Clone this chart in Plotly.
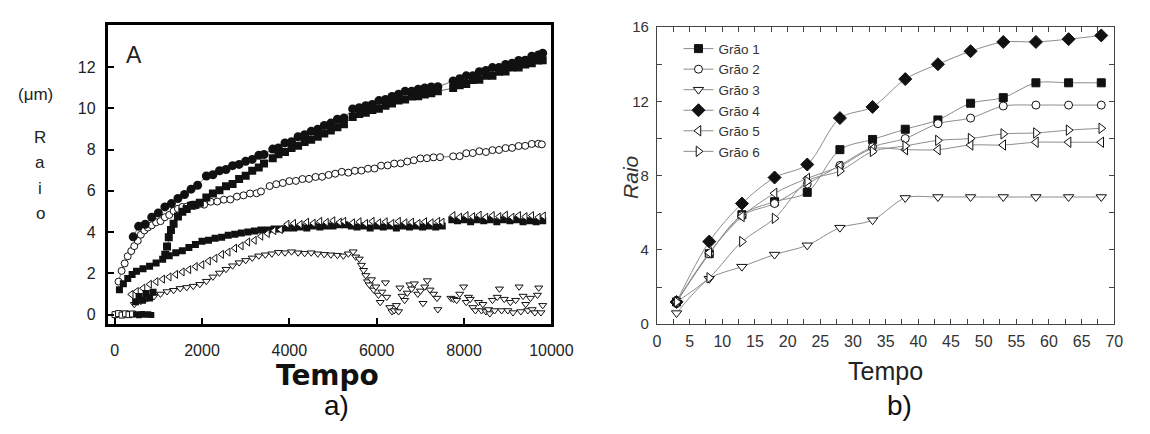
import plotly.graph_objects as go

# The page body has an 8 px margin, so the figure is drawn 8 px smaller
# and all layout positions are given in window pixels minus that offset.
OFF = 8
W, H = 1150 - OFF, 434 - OFF

# ---------------- Panel a) data (Tempo vs Raio, µm) ----------------
a_s1_x = [425, 550, 700, 850, 1000, 1150, 1300, 1450, 1600, 1750, 1900, 2100, 2250, 2400, 2550,
          2700, 2850, 3000, 3150, 3300, 3420, 3620, 3750, 3900, 4050, 4200, 4350, 4500, 4650, 4800,
          4950, 5100, 5250, 5450, 5600, 5750, 5900, 6050, 6200, 6350, 6500, 6650, 6800, 6950, 7100,
          7250, 7400, 7750, 7900, 8050, 8200, 8350, 8500, 8650, 8800, 8950, 9100, 9250, 9400, 9550,
          9700, 9800]
a_s1_y = [3.77, 4.28, 4.38, 4.72, 4.93, 5.22, 5.38, 5.63, 5.82, 6.08, 6.27, 6.72, 6.78, 6.97, 7.03,
          7.22, 7.28, 7.43, 7.52, 7.72, 7.76, 8.02, 8.08, 8.32, 8.38, 8.62, 8.72, 8.88, 8.98, 9.17,
          9.28, 9.47, 9.53, 9.97, 10.03, 10.12, 10.18, 10.37, 10.43, 10.57, 10.68, 10.82, 10.83, 10.92, 10.98,
          11.03, 11.04, 11.32, 11.43, 11.57, 11.58, 11.77, 11.83, 11.97, 11.98, 12.12, 12.18, 12.32, 12.33, 12.52,
          12.58, 12.67]

a_s2_x = [1160, 1200, 1240, 1290, 1350, 1450, 1550, 1650, 1750, 1850, 1950, 2100, 2250, 2400, 2550,
          2700, 2850, 3000, 3150, 3300, 3420, 3620, 3750, 3900, 4050, 4200, 4350, 4500, 4650, 4800,
          4950, 5100, 5250, 5450, 5600, 5750, 5900, 6050, 6200, 6350, 6500, 6650, 6800, 6950, 7100,
          7250, 7400, 7750, 7900, 8050, 8200, 8350, 8500, 8650, 8800, 8950, 9100, 9250, 9400, 9550,
          9700, 9800]
a_s2_y = [2.9, 3.3, 3.75, 4.1, 4.4, 4.75, 4.98, 5.12, 5.27, 5.33, 5.42, 5.68, 5.87, 6.03, 6.22,
          6.33, 6.57, 6.73, 6.97, 7.13, 7.32, 7.58, 7.77, 7.88, 8.07, 8.18, 8.37, 8.48, 8.62, 8.78,
          8.92, 9.08, 9.22, 9.58, 9.72, 9.78, 9.92, 9.98, 10.12, 10.23, 10.37, 10.43, 10.57, 10.58, 10.67,
          10.73, 10.82, 10.98, 11.12, 11.18, 11.37, 11.38, 11.57, 11.58, 11.77, 11.78, 11.97, 11.98, 12.12, 12.18,
          12.32, 12.33]

a_s2e_x = [480, 560, 640, 720, 800, 880]
a_s2e_y = [0.62, 0.88, 0.70, 1.02, 0.80, 1.08]

a_s3_x = [90, 160, 230, 300, 380, 450, 530, 600, 680, 760, 850, 950, 1050, 1150, 1250,
          1350, 1450, 1550, 1650, 1750, 1850, 1950, 2050, 2200, 2350, 2500, 2650, 2800, 2950, 3100,
          3250, 3350, 3550, 3700, 3850, 4000, 4150, 4300, 4450, 4600, 4750, 4900, 5050, 5200, 5350,
          5500, 5650, 5800, 5950, 6100, 6250, 6400, 6550, 6700, 6850, 7000, 7150, 7300, 7450, 7750,
          7900, 8050, 8200, 8350, 8500, 8650, 8800, 8950, 9100, 9250, 9400, 9550, 9700, 9780]
a_s3_y = [1.6, 2.12, 2.48, 2.83, 3.08, 3.32, 3.58, 3.87, 4.08, 4.22, 4.33, 4.47, 4.53, 4.72, 4.83,
          5.02, 5.13, 5.22, 5.23, 5.32, 5.28, 5.37, 5.33, 5.47, 5.48, 5.57, 5.58, 5.72, 5.78, 5.87,
          5.88, 5.97, 6.23, 6.32, 6.38, 6.47, 6.48, 6.57, 6.58, 6.67, 6.68, 6.77, 6.83, 6.92, 6.88,
          6.97, 6.98, 7.07, 7.08, 7.22, 7.23, 7.32, 7.33, 7.42, 7.48, 7.57, 7.58, 7.62, 7.63, 7.67,
          7.68, 7.82, 7.83, 7.92, 7.88, 7.97, 7.98, 8.07, 8.08, 8.17, 8.18, 8.27, 8.28, 8.25]

a_s4_x = [110, 200, 300, 400, 500, 650, 800, 950, 1100, 1250, 1400, 1550, 1700, 1850, 2000,
          2150, 2300, 2450, 2600, 2750, 2900, 3050, 3200, 3350, 3500, 3650, 3800, 3950, 4100, 4250,
          4400, 4550, 4700, 4850, 5000, 5150, 5270, 5420, 5550, 5700, 5850, 6000, 6150, 6300, 6450,
          6600, 6750, 6900, 7050, 7200, 7350, 7500, 7720, 7850, 8000, 8150, 8300, 8450, 8600, 8750,
          8900, 9050, 9200, 9350, 9500, 9650, 9800]
a_s4_y = [1.2, 1.5, 1.75, 1.95, 2.1, 2.22, 2.35, 2.5, 2.68, 2.85, 3.0, 3.1, 3.25, 3.4, 3.55,
          3.6, 3.7, 3.75, 3.85, 3.9, 3.95, 4.0, 4.05, 4.1, 4.1, 4.15, 4.15, 4.2, 4.2, 4.25,
          4.2, 4.3, 4.25, 4.3, 4.3, 4.35, 4.35, 4.3, 4.25, 4.3, 4.2, 4.3, 4.25, 4.3, 4.2,
          4.3, 4.25, 4.3, 4.25, 4.3, 4.25, 4.3, 4.6, 4.55, 4.6, 4.5, 4.6, 4.55, 4.6, 4.5,
          4.6, 4.55, 4.6, 4.5, 4.55, 4.5, 4.55]

a_s5_x = [380, 500, 650, 800, 950, 1100, 1250, 1400, 1550, 1700, 1850, 2000, 2150, 2300, 2450,
          2600, 2750, 2900, 3050, 3200, 3350, 3500, 3650, 3800, 3950, 4100, 4250, 4400, 4550, 4700,
          4850, 5000, 5150, 5250, 5450, 5600, 5750, 5900, 6050, 6200, 6350, 6500, 6650, 6800, 6950,
          7100, 7250, 7400, 7500, 7750, 7900, 8050, 8200, 8350, 8500, 8650, 8800, 8950, 9100, 9250,
          9400, 9550, 9700, 9820]
a_s5_y = [0.98, 1.12, 1.28, 1.47, 1.6, 1.72, 1.83, 1.95, 2.07, 2.18, 2.33, 2.42, 2.6, 2.73, 2.92,
          3.03, 3.22, 3.33, 3.52, 3.6, 3.8, 3.93, 4.07, 4.12, 4.38, 4.42, 4.37, 4.48, 4.43, 4.52,
          4.47, 4.55, 4.48, 4.52, 4.45, 4.5, 4.42, 4.52, 4.45, 4.5, 4.42, 4.52, 4.45, 4.48, 4.42,
          4.5, 4.45, 4.52, 4.48, 4.8, 4.72, 4.8, 4.75, 4.82, 4.72, 4.8, 4.75, 4.82, 4.72, 4.8,
          4.75, 4.8, 4.72, 4.78]

a_s6_x = [450, 600, 750, 900, 1050, 1200, 1350, 1500, 1650, 1800, 1950, 2100, 2250, 2400, 2550,
          2700, 2850, 3000, 3150, 3300, 3450, 3600, 3750, 3900, 4050, 4200, 4350, 4500, 4650, 4800,
          4950, 5100, 5235]
a_s6_y = [0.5, 0.65, 0.78, 0.88, 1.0, 1.12, 1.18, 1.27, 1.32, 1.38, 1.47, 1.62, 1.83, 2.02, 2.2,
          2.37, 2.52, 2.63, 2.75, 2.85, 2.9, 2.95, 3.02, 3.0, 3.05, 3.0, 2.97, 3.0, 2.95, 2.92,
          2.9, 2.88, 2.85]

a_s6b_x = [5350, 5460, 5520, 5600, 5650, 5700, 5750, 5790, 5830, 5880, 5930, 5980, 6040, 6080, 6120,
           6200, 6230, 6300, 6350, 6400, 6450, 6500, 6530, 6580, 6640, 6700, 6760, 6800, 6860, 6940,
           7000, 7060, 7100, 7160, 7220, 7300, 7380, 7400, 7700, 7760, 7830, 7900, 7990, 8050, 8100,
           8140, 8200, 8260, 8330, 8400, 8430, 8500, 8560, 8590, 8650, 8700, 8760, 8810, 8860, 8920,
           9000, 9060, 9120, 9180, 9260, 9300, 9350, 9410, 9460, 9520, 9560, 9620, 9680, 9710, 9760, 9800]
a_s6b_y = [2.95, 3.05, 2.8, 2.7, 2.4, 2.15, 1.9, 1.6, 1.45, 1.7, 1.2, 1.35, 0.95, 0.6, 1.1,
           1.55, 0.85, 0.35, 0.15, 0.2, 0.45, 0.15, 1.3, 0.9, 0.7, 1.05, 1.45, 1.25, 1.5, 1.0,
           1.15, 0.55, 1.35, 1.65, 1.2, 1.0, 0.8, 0.25, 0.8, 0.75, 0.7, 1.0, 1.35, 0.6, 0.85,
           0.75, 0.35, 0.2, 0.6, 0.2, 0.5, 0.15, 0.25, 0.05, 0.7, 0.2, 0.85, 1.25, 0.2, 0.75,
           0.2, 0.6, 0.1, 0.7, 1.35, 0.15, 0.9, 0.5, 0.2, 0.8, 0.25, 0.1, 0.95, 1.3, 0.1, 0.45]

a_s7o_x = [10, 90, 170, 250, 330, 410]
a_s7o_y = [0.0, 0.05, -0.02, 0.04, 0.0, 0.03]
a_s7f_x = [490, 560, 630, 700, 770, 840]
a_s7f_y = [0.02, -0.03, 0.03, 0.0, 0.02, -0.02]

a_xticks = [0, 2000, 4000, 6000, 8000, 10000]
a_yticks = [0, 2, 4, 6, 8, 10, 12]

# ---------------- Panel b) data ----------------
b_tempo = [3, 8, 13, 18, 23, 28, 33, 38, 43, 48, 53, 58, 63, 68]
b_names = ["Grão 1", "Grão 2", "Grão 3", "Grão 4", "Grão 5", "Grão 6"]
b_grao1 = [1.2, 3.8, 5.9, 6.6, 7.1, 9.4, 9.95, 10.5, 11.0, 11.9, 12.2, 13.0, 13.0, 13.0]
b_grao2 = [1.2, 3.8, 5.85, 6.5, 7.55, 8.55, 9.55, 10.0, 10.8, 11.1, 11.75, 11.8, 11.8, 11.8]
b_grao3 = [0.6, 2.45, 3.1, 3.75, 4.25, 5.2, 5.6, 6.8, 6.85, 6.85, 6.85, 6.85, 6.85, 6.85]
b_grao4 = [1.2, 4.45, 6.5, 7.9, 8.6, 11.1, 11.7, 13.2, 14.0, 14.7, 15.2, 15.2, 15.35, 15.55]
b_grao5 = [1.2, 3.85, 5.8, 7.05, 7.85, 8.5, 9.45, 9.4, 9.4, 9.65, 9.65, 9.8, 9.8, 9.8]
b_grao6 = [1.2, 2.5, 4.45, 5.7, 7.7, 8.25, 9.3, 9.6, 9.9, 10.0, 10.25, 10.3, 10.45, 10.55]

# ---------------- figure ----------------
fig = go.Figure()
INK = "#111111"


def a_trace(x, y, symbol, filled, size, line=False):
    marker = dict(symbol=symbol, size=size)
    if filled:
        marker.update(color=INK, line=dict(width=0))
    else:
        marker.update(color="white", line=dict(color=INK, width=1))
    fig.add_trace(go.Scatter(
        x=x, y=y, mode="lines+markers" if line else "markers",
        line=dict(color=INK, width=0.6), marker=marker,
        xaxis="x", yaxis="y", showlegend=False, hoverinfo="skip"))


a_trace(a_s3_x, a_s3_y, "circle", False, 7, line=True)
a_trace(a_s6_x, a_s6_y, "triangle-down", False, 7, line=True)
a_trace(a_s6b_x, a_s6b_y, "triangle-down", False, 7)
a_trace(a_s4_x, a_s4_y, "square", True, 7)
a_trace(a_s5_x, a_s5_y, "triangle-left", False, 7)
a_trace(a_s2e_x, a_s2e_y, "square", True, 7)
a_trace(a_s2_x, a_s2_y, "square", True, 8, line=True)
a_trace(a_s1_x, a_s1_y, "circle", True, 9, line=True)
a_trace(a_s7o_x, a_s7o_y, "square", False, 6)
a_trace(a_s7f_x, a_s7f_y, "square", True, 6)

b_series = [b_grao1, b_grao2, b_grao3, b_grao4, b_grao5, b_grao6]
b_symbols = ["square", "circle", "triangle-down", "diamond", "triangle-left", "triangle-right"]
b_filled = [True, False, False, True, False, False]
b_sizes = [8, 8, 9, 10, 9, 9]
for name, ys, sym, filled, sz in zip(b_names, b_series, b_symbols, b_filled, b_sizes):
    fig.add_trace(go.Scatter(
        x=b_tempo, y=ys, name=name, mode="lines+markers",
        line=dict(color="#8c8c8c", width=1, shape="spline", smoothing=0.9),
        marker=dict(symbol=sym, size=sz, color="#111111" if filled else "white",
                    line=dict(color="#111111", width=1)),
        xaxis="x2", yaxis="y2"))


def px(x):
    return (x - OFF) / W


def py(y):
    return 1 - (y - OFF) / H


axfont_a = dict(family="Liberation Sans, Arial", size=16, color="#222222")
axfont_b = dict(family="Liberation Sans, Arial", size=16, color="#333333")

fig.update_layout(
    width=W, height=H, margin=dict(l=0, r=0, t=0, b=0),
    paper_bgcolor="white", plot_bgcolor="white",
    xaxis=dict(domain=[px(106), px(560)], range=[-157, 10000], anchor="y",
               showline=True, linewidth=3, linecolor="black", mirror=True,
               ticks="inside", ticklen=6, tickwidth=2, tickcolor="black",
               tickvals=a_xticks, ticktext=[str(v) for v in a_xticks],
               tickfont=axfont_a, ticklabelstandoff=10,
               showgrid=False, zeroline=False),
    yaxis=dict(domain=[py(328), py(16)], range=[-0.465, 14.05], anchor="x",
               showline=True, linewidth=3, linecolor="black", mirror=True,
               ticks="inside", ticklen=6, tickwidth=2, tickcolor="black",
               tickvals=a_yticks, tickfont=axfont_a, ticklabelstandoff=6,
               showgrid=False, zeroline=False),
    xaxis2=dict(domain=[px(668), px(1136)], range=[0, 70], anchor="y2",
                showline=True, linewidth=1.2, linecolor="#444444", mirror="allticks",
                ticks="inside", ticklen=5, tickwidth=1, tickcolor="#444444",
                tick0=0, dtick=5, tickfont=axfont_b, ticklabelstandoff=2,
                minor=dict(ticks="inside", ticklen=5, dtick=2.5, tick0=0, tickcolor="#444444"),
                showgrid=False, zeroline=False),
    yaxis2=dict(domain=[py(328), py(18.5)], range=[0, 16], anchor="x2",
                showline=True, linewidth=1.2, linecolor="#444444", mirror="allticks",
                ticks="inside", ticklen=5, tickwidth=1, tickcolor="#444444",
                tick0=0, dtick=4, tickfont=dict(family="Liberation Sans, Arial", size=15, color="#333333"),
                ticklabelstandoff=4,
                minor=dict(ticks="inside", ticklen=5, dtick=2, tick0=0, tickcolor="#444444"),
                showgrid=False, zeroline=False),
    legend=dict(x=px(690), y=py(25), xanchor="left", yanchor="top",
                bgcolor="rgba(0,0,0,0)", borderwidth=0,
                font=dict(family="Liberation Sans, Arial", size=13.5, color="#333333"),
                itemwidth=30, tracegroupgap=0),
    showlegend=True,
)

ann = []


def add_text(text, x, y, size, family="Liberation Sans, Arial", color="#222222", angle=0):
    ann.append(dict(text=text, x=px(x), y=py(y), xref="paper", yref="paper",
                    xanchor="center", yanchor="middle", showarrow=False, textangle=angle,
                    font=dict(family=family, size=size, color=color)))


add_text("(μm)", 32, 89, 17)
for letter, yy in zip(["R", "a", "i", "o"], [133, 160, 187, 213]):
    add_text(letter, 37, yy, 17)
add_text("A", 133, 48, 23)
add_text("<b>Tempo</b>", 331, 381, 28, family="DejaVu Sans", color="#111111")
add_text("a)", 340, 413, 28, color="#111111")
add_text("<i>Raio</i>", 641, 175, 21, color="#333333", angle=-90)
add_text("Tempo", 902, 377, 25, color="#222222")
add_text("b)", 916, 413, 28, color="#111111")
fig.update_layout(annotations=ann)

fig.write_html("out.html")
